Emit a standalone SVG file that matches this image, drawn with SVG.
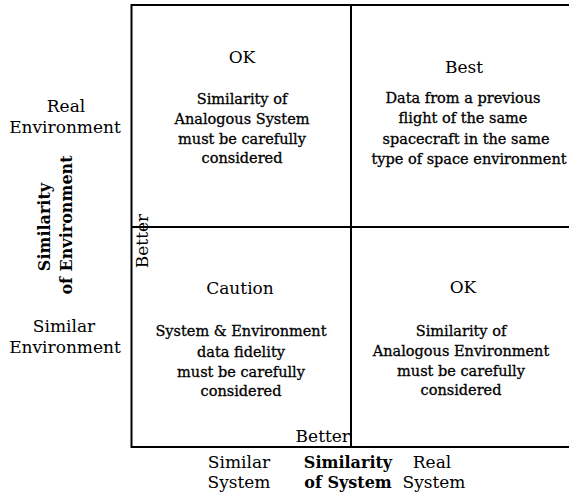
<svg xmlns="http://www.w3.org/2000/svg" width="569" height="497" viewBox="0 0 569 497">
<style>
text{font-family:"DejaVu Serif","Liberation Serif",serif;fill:#000;text-anchor:middle}
.h{font-size:17px}
.b{font-size:14.5px;stroke:#000;stroke-width:0.3}
.l{font-size:17px}
.t{font-size:16px;font-weight:bold}
.grid line{stroke:#000;stroke-width:2}
</style>
<rect width="569" height="497" fill="#fff"/>
<g id="connectors" class="grid">
<line x1="131.5" y1="5" x2="569" y2="5"/>
<line x1="131.5" y1="447" x2="569" y2="447"/>
<line x1="131.5" y1="4" x2="131.5" y2="448"/>
<line x1="351" y1="4" x2="351" y2="448"/>
<line x1="131.5" y1="227" x2="569" y2="227"/>
</g>
<g id="q-top-left">
<text class="h" x="242" y="63">OK</text>
<text class="b" x="242" y="104">Similarity of</text>
<text class="b" x="242" y="124">Analogous System</text>
<text class="b" x="242" y="144">must be carefully</text>
<text class="b" x="242" y="163">considered</text>
</g>
<g id="q-top-right">
<text class="h" x="464" y="73">Best</text>
<text class="b" x="463" y="103">Data from a previous</text>
<text class="b" x="463" y="123">flight of the same</text>
<text class="b" x="466" y="144">spacecraft in the same</text>
<text class="b" x="469" y="164">type of space environment</text>
</g>
<g id="q-bottom-left">
<text class="h" x="240" y="294">Caution</text>
<text class="b" x="241" y="336">System &amp; Environment</text>
<text class="b" x="241" y="357">data fidelity</text>
<text class="b" x="241" y="377">must be carefully</text>
<text class="b" x="241" y="396">considered</text>
</g>
<g id="q-bottom-right">
<text class="h" x="463" y="293">OK</text>
<text class="b" x="461" y="336">Similarity of</text>
<text class="b" x="461" y="356">Analogous Environment</text>
<text class="b" x="461" y="376">must be carefully</text>
<text class="b" x="461" y="395">considered</text>
</g>
<g id="y-axis">
<text class="l" x="66" y="112">Real</text>
<text class="l" x="65" y="133">Environment</text>
<text class="l" x="64" y="332">Similar</text>
<text class="l" x="65" y="353">Environment</text>
<text class="t" transform="translate(50,227) rotate(-90)">Similarity</text>
<text class="t" transform="translate(72,225) rotate(-90)">of Environment</text>
<text class="l" transform="translate(148,241) rotate(-90)">Better</text>
</g>
<g id="x-axis">
<text class="l" x="350" y="442" style="text-anchor:end">Better</text>
<text class="l" x="239" y="468">Similar</text>
<text class="l" x="239" y="488">System</text>
<text class="t" x="348" y="468">Similarity</text>
<text class="t" x="348" y="488">of System</text>
<text class="l" x="432" y="468">Real</text>
<text class="l" x="434" y="488">System</text>
</g>
</svg>
